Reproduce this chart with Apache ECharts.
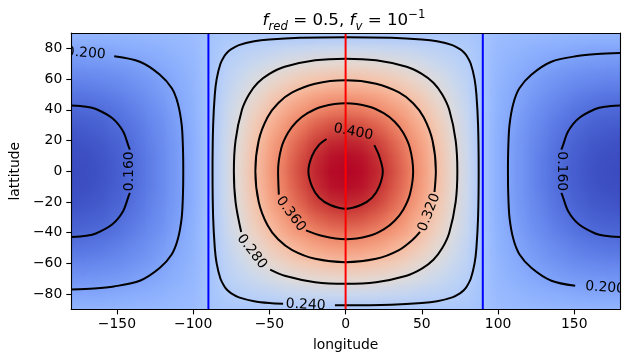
<!DOCTYPE html>
<html>
<head>
<meta charset="utf-8">
<script src="https://cdn.jsdelivr.net/npm/echarts@6/dist/echarts.min.js"></script>
<style>
  html, body { margin: 0; padding: 0; background: #fff; }
  #temp_map { width: 630px; height: 362px; }
</style>
</head>
<body>
<div id="temp_map"></div>
<script>
// grid of the field (rows from lat 90 down to lat -90)
const lons = [-180, -170, -160, -150, -140, -130, -120, -110, -100, -90, -80, -70, -60, -50, -40, -30, -20, -10,
  0, 10, 20, 30, 40, 50, 60, 70, 80, 90, 100, 110, 120, 130, 140, 150, 160, 170, 180];
const lats = [90, 80, 70, 60, 50, 40, 30, 20, 10, 0, -10, -20, -30, -40, -50, -60, -70, -80, -90];
const temps = [
  [0.215,0.215,0.216,0.216,0.217,0.218,0.219,0.220,0.222,0.228,0.233,0.233,0.233,0.233,0.233,0.233,0.233,0.233,0.233,0.233,0.233,0.233,0.233,0.233,0.233,0.233,0.233,0.228,0.222,0.220,0.219,0.218,0.217,0.216,0.216,0.215,0.215],
  [0.202,0.202,0.203,0.205,0.207,0.209,0.212,0.216,0.219,0.228,0.238,0.243,0.247,0.251,0.255,0.257,0.260,0.261,0.261,0.261,0.260,0.257,0.255,0.251,0.247,0.243,0.238,0.228,0.219,0.216,0.212,0.209,0.207,0.205,0.203,0.202,0.202],
  [0.189,0.190,0.191,0.194,0.197,0.201,0.206,0.211,0.217,0.228,0.243,0.252,0.261,0.269,0.276,0.282,0.286,0.289,0.290,0.289,0.286,0.282,0.276,0.269,0.261,0.252,0.243,0.228,0.217,0.211,0.206,0.201,0.197,0.194,0.191,0.190,0.189],
  [0.177,0.178,0.180,0.183,0.188,0.193,0.200,0.207,0.215,0.228,0.247,0.261,0.274,0.286,0.297,0.306,0.312,0.316,0.317,0.316,0.312,0.306,0.297,0.286,0.274,0.261,0.247,0.228,0.215,0.207,0.200,0.193,0.188,0.183,0.180,0.178,0.177],
  [0.166,0.167,0.170,0.174,0.180,0.187,0.195,0.204,0.213,0.228,0.251,0.269,0.286,0.302,0.316,0.328,0.338,0.344,0.346,0.344,0.338,0.328,0.316,0.302,0.286,0.269,0.251,0.228,0.213,0.204,0.195,0.187,0.180,0.174,0.170,0.167,0.166],
  [0.157,0.158,0.161,0.166,0.173,0.181,0.190,0.201,0.212,0.228,0.255,0.276,0.297,0.316,0.335,0.350,0.361,0.368,0.371,0.368,0.361,0.350,0.335,0.316,0.297,0.276,0.255,0.228,0.212,0.201,0.190,0.181,0.173,0.166,0.161,0.158,0.157],
  [0.150,0.151,0.154,0.160,0.167,0.176,0.186,0.198,0.210,0.228,0.257,0.282,0.306,0.328,0.350,0.367,0.380,0.388,0.391,0.388,0.380,0.367,0.350,0.328,0.306,0.282,0.257,0.228,0.210,0.198,0.186,0.176,0.167,0.160,0.154,0.151,0.150],
  [0.144,0.146,0.149,0.155,0.163,0.173,0.184,0.196,0.209,0.228,0.260,0.286,0.312,0.338,0.361,0.380,0.394,0.402,0.405,0.402,0.394,0.380,0.361,0.338,0.312,0.286,0.260,0.228,0.209,0.196,0.184,0.173,0.163,0.155,0.149,0.146,0.144],
  [0.141,0.142,0.146,0.152,0.160,0.170,0.182,0.195,0.209,0.228,0.261,0.289,0.316,0.344,0.368,0.388,0.402,0.412,0.415,0.412,0.402,0.388,0.368,0.344,0.316,0.289,0.261,0.228,0.209,0.195,0.182,0.170,0.160,0.152,0.146,0.142,0.141],
  [0.140,0.141,0.145,0.151,0.159,0.170,0.182,0.195,0.209,0.228,0.261,0.290,0.317,0.346,0.371,0.391,0.405,0.415,0.418,0.415,0.405,0.391,0.371,0.346,0.317,0.290,0.261,0.228,0.209,0.195,0.182,0.170,0.159,0.151,0.145,0.141,0.140],
  [0.141,0.142,0.146,0.152,0.160,0.170,0.182,0.195,0.209,0.228,0.261,0.289,0.316,0.344,0.368,0.388,0.402,0.412,0.415,0.412,0.402,0.388,0.368,0.344,0.316,0.289,0.261,0.228,0.209,0.195,0.182,0.170,0.160,0.152,0.146,0.142,0.141],
  [0.144,0.146,0.149,0.155,0.163,0.173,0.184,0.196,0.209,0.228,0.260,0.286,0.312,0.338,0.361,0.380,0.394,0.402,0.405,0.402,0.394,0.380,0.361,0.338,0.312,0.286,0.260,0.228,0.209,0.196,0.184,0.173,0.163,0.155,0.149,0.146,0.144],
  [0.150,0.151,0.154,0.160,0.167,0.176,0.186,0.198,0.210,0.228,0.257,0.282,0.306,0.328,0.350,0.367,0.380,0.388,0.391,0.388,0.380,0.367,0.350,0.328,0.306,0.282,0.257,0.228,0.210,0.198,0.186,0.176,0.167,0.160,0.154,0.151,0.150],
  [0.157,0.158,0.161,0.166,0.173,0.181,0.190,0.201,0.212,0.228,0.255,0.276,0.297,0.316,0.335,0.350,0.361,0.368,0.371,0.368,0.361,0.350,0.335,0.316,0.297,0.276,0.255,0.228,0.212,0.201,0.190,0.181,0.173,0.166,0.161,0.158,0.157],
  [0.166,0.167,0.170,0.174,0.180,0.187,0.195,0.204,0.213,0.228,0.251,0.269,0.286,0.302,0.316,0.328,0.338,0.344,0.346,0.344,0.338,0.328,0.316,0.302,0.286,0.269,0.251,0.228,0.213,0.204,0.195,0.187,0.180,0.174,0.170,0.167,0.166],
  [0.177,0.178,0.180,0.183,0.188,0.193,0.200,0.207,0.215,0.228,0.247,0.261,0.274,0.286,0.297,0.306,0.312,0.316,0.317,0.316,0.312,0.306,0.297,0.286,0.274,0.261,0.247,0.228,0.215,0.207,0.200,0.193,0.188,0.183,0.180,0.178,0.177],
  [0.189,0.190,0.191,0.194,0.197,0.201,0.206,0.211,0.217,0.228,0.243,0.252,0.261,0.269,0.276,0.282,0.286,0.289,0.290,0.289,0.286,0.282,0.276,0.269,0.261,0.252,0.243,0.228,0.217,0.211,0.206,0.201,0.197,0.194,0.191,0.190,0.189],
  [0.202,0.202,0.203,0.205,0.207,0.209,0.212,0.216,0.219,0.228,0.238,0.243,0.247,0.251,0.255,0.257,0.260,0.261,0.261,0.261,0.260,0.257,0.255,0.251,0.247,0.243,0.238,0.228,0.219,0.216,0.212,0.209,0.207,0.205,0.203,0.202,0.202],
  [0.215,0.215,0.216,0.216,0.217,0.218,0.219,0.220,0.222,0.228,0.233,0.233,0.233,0.233,0.233,0.233,0.233,0.233,0.233,0.233,0.233,0.233,0.233,0.233,0.233,0.233,0.233,0.228,0.222,0.220,0.219,0.218,0.217,0.216,0.216,0.215,0.215]
];

// contour lines [lon, lat], broken where the labels sit
const c040 = [[18.8,17],[22,10],[24.4,0],[22,-10],[17.3,-17.3],[10,-22],[0,-24.4],[-10,-22],[-17.3,-17.3],[-22,-10],[-24.4,0],[-22,10],[-17.3,17.3],[-12.5,21]];
const c036 = [[-26,-38.5],[-15,-42.2],[0,-44.3],[15,-42.2],[25,-37.8],[32.2,-32.2],[37.8,-25],[42.2,-15],[44.3,0],[42.2,15],[37.8,25],[32.2,32.2],[25,37.8],[15,42.2],[0,44.3],[-15,42.2],[-25,37.8],[-32.2,32.2],[-37.8,25],[-42.2,15],[-44.3,0],[-43.8,-15.2]];
const c032 = [[48.8,-39.5],[44.3,-44.3],[35,-51.3],[20,-57],[0,-59.2],[-20,-57],[-35,-51.3],[-44.3,-44.3],[-51.3,-35],[-57,-20],[-59.2,0],[-57,20],[-51.3,35],[-44.3,44.3],[-35,51.3],[-20,57],[0,59.2],[20,57],[35,51.3],[44.3,44.3],[51.3,35],[57,20],[59.2,0],[58.3,-13.5]];
const c028 = [[-49.5,-64],[-40,-68],[-20,-72.2],[0,-73.3],[20,-72.2],[40,-68],[50,-63.4],[57.6,-57.6],[63.4,-50],[68,-40],[72.2,-20],[73.3,0],[72.2,20],[68,40],[63.4,50],[57.6,57.6],[50,63.4],[40,68],[20,72.2],[0,73.3],[-20,72.2],[-40,68],[-50,63.4],[-57.6,57.6],[-63.4,50],[-68,40],[-72.2,20],[-73.3,0],[-72.2,-20],[-68.5,-39.5]];
const c024 = [[-7,-87.3],[0,-87.3],[30,-86.9],[50,-85.8],[60,-84.6],[70,-82.1],[75,-79.5],[77.5,-77.5],[79.5,-75],[82.1,-70],[84.6,-60],[85.8,-50],[86.9,-30],[87.3,0],[86.9,30],[85.8,50],[84.6,60],[82.1,70],[79.5,75],[77.5,77.5],[75,79.5],[70,82.1],[60,84.6],[50,85.8],[30,86.9],[0,87.3],[-30,86.9],[-50,85.8],[-60,84.6],[-70,82.1],[-75,79.5],[-77.5,77.5],[-79.5,75],[-82.1,70],[-84.6,60],[-85.8,50],[-86.9,30],[-87.3,0],[-86.9,-30],[-85.8,-50],[-84.6,-60],[-82.1,-70],[-79.5,-75],[-77.5,-77.5],[-75,-79.5],[-70,-82.1],[-60,-84.6],[-50,-85.8],[-41,-86.3]];
const c020West = [[-151.8,74.8],[-135,71.3],[-122,63],[-114,54],[-110,44],[-107.5,30],[-106.7,15],[-106.5,0],[-106.7,-15],[-107.5,-30],[-110,-44],[-114,-54],[-122,-63],[-135,-71.3],[-152,-75],[-165,-76.3],[-180,-77]];
const c020East = [[180,77],[165,76.3],[152,75],[135,71.3],[122,63],[114,54],[110,44],[107.5,30],[106.7,15],[106.5,0],[106.7,-15],[107.5,-30],[110,-44],[114,-54],[122,-63],[135,-71.3],[150.6,-74.6]];
const c016WestN = [[-180,42.8],[-170,42],[-163.8,40.5],[-153,34.5],[-146,26],[-142.3,16],[-141.5,14]];
const c016WestS = [[-141.5,-14],[-142.3,-16],[-146,-26],[-153,-34.5],[-163.8,-40.5],[-170,-42],[-180,-42.8]];
const c016EastN = [[180,42.8],[170,42],[163.8,40.5],[153,34.5],[146,26],[142.3,16],[141.5,14]];
const c016EastS = [[141.5,-14],[142.3,-16],[146,-26],[153,-34.5],[163.8,-40.5],[170,-42],[180,-42.8]];
const contourSegments = [c040, c036, c032, c028, c024, c020West, c020East, c016WestN, c016WestS, c016EastN, c016EastS];

const contourLabels = [
  { text: "0.400", lon: 5, lat: 25.5, angle: -11 },
  { text: "0.360", lon: -36, lat: -27.8, angle: -53 },
  { text: "0.320", lon: 54.8, lat: -26.8, angle: 69 },
  { text: "0.280", lon: -61.5, lat: -52.3, angle: -52 },
  { text: "0.240", lon: -26.2, lat: -87, angle: -3 },
  { text: "0.200", lon: -170.5, lat: 76.8, angle: -4 },
  { text: "0.160", lon: -141.6, lat: 0, angle: 90 },
  { text: "0.160", lon: 141.7, lat: 0, angle: -90 },
  { text: "0.200", lon: 170.2, lat: -75.9, angle: -4 }
];

const terminators = [-90, 90];
const substellar = 0;
const xTicks = [-150, -100, -50, 0, 50, 100, 150];
const yTicks = [-80, -60, -40, -20, 0, 20, 40, 60, 80];

const coolwarm = ["#3b4cc0", "#4d68d7", "#6282ea", "#7699f6", "#8db0fe", "#a3c2fe", "#b8d0f9", "#cbd8ee",
  "#dddcdc", "#ecd3c5", "#f5c4ac", "#f7af91", "#f49a7b", "#ec7f63", "#dc5d4a", "#c53334", "#b40426"];

const FONT = "DejaVu Sans";
const minusFmt = v => (v < 0 ? "\u2212" + Math.abs(v) : String(v));

const cells = [];
lats.forEach((lat, i) => {
  lons.forEach((lon, j) => {
    cells.push([lon, lat, temps[i][j]]);
  });
});

// colours of the cells as given by the visualMap, painted as one smoothed image
const cellColors = [];
function renderField(params, api) {
  const idx = params.dataIndex;
  cellColors[idx] = api.visual("color");
  if (idx !== cells.length - 1) return null;
  const cv = document.createElement("canvas");
  cv.width = lons.length;
  cv.height = lats.length;
  const ctx = cv.getContext("2d");
  cellColors.forEach((col, k) => {
    ctx.fillStyle = col;
    ctx.fillRect(k % lons.length, Math.floor(k / lons.length), 1, 1);
  });
  const halfLon = (lons[1] - lons[0]) / 2;
  const halfLat = (lats[0] - lats[1]) / 2;
  const p0 = api.coord([lons[0] - halfLon, lats[0] + halfLat]);
  const p1 = api.coord([lons[lons.length - 1] + halfLon, lats[lats.length - 1] - halfLat]);
  return {
    type: "image",
    style: { image: cv, x: p0[0], y: p0[1], width: p1[0] - p0[0], height: p1[1] - p0[1] }
  };
}

const axisLine = { show: true, onZero: false, lineStyle: { color: "#000", width: 1.1 } };

const series = [
  {
    type: "custom",
    data: cells,
    encode: { x: 0, y: 1 },
    clip: true,
    z: 1,
    silent: true,
    renderItem: renderField
  }
];

contourSegments.forEach(seg => {
  series.push({
    type: "line",
    data: seg,
    smooth: 0.3,
    symbol: "none",
    clip: true,
    z: 3,
    silent: true,
    lineStyle: { color: "#000", width: 2 }
  });
});

series.push({
  type: "custom",
  data: contourLabels.map(d => [d.lon, d.lat]),
  encode: { x: 0, y: 1 },
  clip: true,
  z: 4,
  silent: true,
  renderItem: (params, api) => {
    const lb = contourLabels[params.dataIndex];
    const p = api.coord([api.value(0), api.value(1)]);
    return {
      type: "text",
      x: p[0],
      y: p[1],
      rotation: lb.angle * Math.PI / 180,
      style: {
        text: lb.text,
        fill: "#000",
        font: "13.9px '" + FONT + "'",
        align: "center",
        verticalAlign: "middle",
        textAlign: "center",
        textVerticalAlign: "middle"
      }
    };
  }
});

terminators.forEach(lon => {
  series.push({
    type: "line",
    data: [[lon, -90], [lon, 90]],
    symbol: "none",
    z: 5,
    silent: true,
    lineStyle: { color: "#0000ff", width: 2 }
  });
});
series.push({
  type: "line",
  data: [[substellar, -90], [substellar, 90]],
  symbol: "none",
  z: 5,
  silent: true,
  lineStyle: { color: "#ff0000", width: 2 }
});

const chart = echarts.init(document.getElementById("temp_map"));
chart.setOption({
  animation: false,
  backgroundColor: "#fff",
  grid: { left: 68, right: 10, top: 33, bottom: 52.5, containLabel: false },
  visualMap: {
    show: false,
    type: "continuous",
    dimension: 2,
    seriesIndex: 0,
    min: 0.14,
    max: 0.418,
    inRange: { color: coolwarm }
  },
  xAxis: [
    {
      type: "value", min: -180, max: 180, position: "bottom", z: 10,
      axisLine: axisLine,
      axisTick: { show: true, customValues: xTicks, length: 4.9, lineStyle: { color: "#000", width: 1.1 } },
      axisLabel: { customValues: xTicks, formatter: minusFmt, color: "#000", fontSize: 13.9, fontFamily: FONT, margin: 8 },
      splitLine: { show: false },
      name: "longitude", nameLocation: "middle", nameGap: 29,
      nameTextStyle: { color: "#000", fontSize: 13.9, fontFamily: FONT }
    },
    {
      type: "value", min: -180, max: 180, position: "top", z: 10,
      axisLine: axisLine, axisTick: { show: false }, axisLabel: { show: false }, splitLine: { show: false }
    }
  ],
  yAxis: [
    {
      type: "value", min: -90, max: 90, position: "left", z: 10,
      axisLine: axisLine,
      axisTick: { show: true, customValues: yTicks, length: 4.9, lineStyle: { color: "#000", width: 1.1 } },
      axisLabel: { customValues: yTicks, formatter: minusFmt, color: "#000", fontSize: 13.9, fontFamily: FONT, margin: 9 },
      splitLine: { show: false },
      name: "lattitude", nameLocation: "middle", nameGap: 34,
      nameTextStyle: { color: "#000", fontSize: 13.9, fontFamily: FONT }
    },
    {
      type: "value", min: -90, max: 90, position: "right", z: 10,
      axisLine: axisLine, axisTick: { show: false }, axisLabel: { show: false }, splitLine: { show: false }
    }
  ],
  graphic: [
    {
      type: "text",
      x: 344,
      y: 9,
      z: 20,
      style: {
        text: "{i|f}{s|red}{n| = 0.5, }{i|f}{s|v}{n| = 10}{p|\u22121}",
        align: "center",
        verticalAlign: "top",
        textAlign: "center",
        textVerticalAlign: "top",
        fill: "#000",
        rich: {
          n: { fontSize: 16.7, fontFamily: FONT, lineHeight: 24, verticalAlign: "middle", fill: "#000" },
          i: { fontSize: 16.7, fontFamily: FONT, fontStyle: "italic", lineHeight: 24, verticalAlign: "middle", fill: "#000" },
          s: { fontSize: 11.7, fontFamily: FONT, fontStyle: "italic", lineHeight: 24, verticalAlign: "bottom", fill: "#000" },
          p: { fontSize: 11.7, fontFamily: FONT, lineHeight: 24, verticalAlign: "top", fill: "#000" }
        }
      }
    }
  ],
  series: series
});

window.addEventListener("resize", function() {
  chart.resize();
});
</script>
</body>
</html>
